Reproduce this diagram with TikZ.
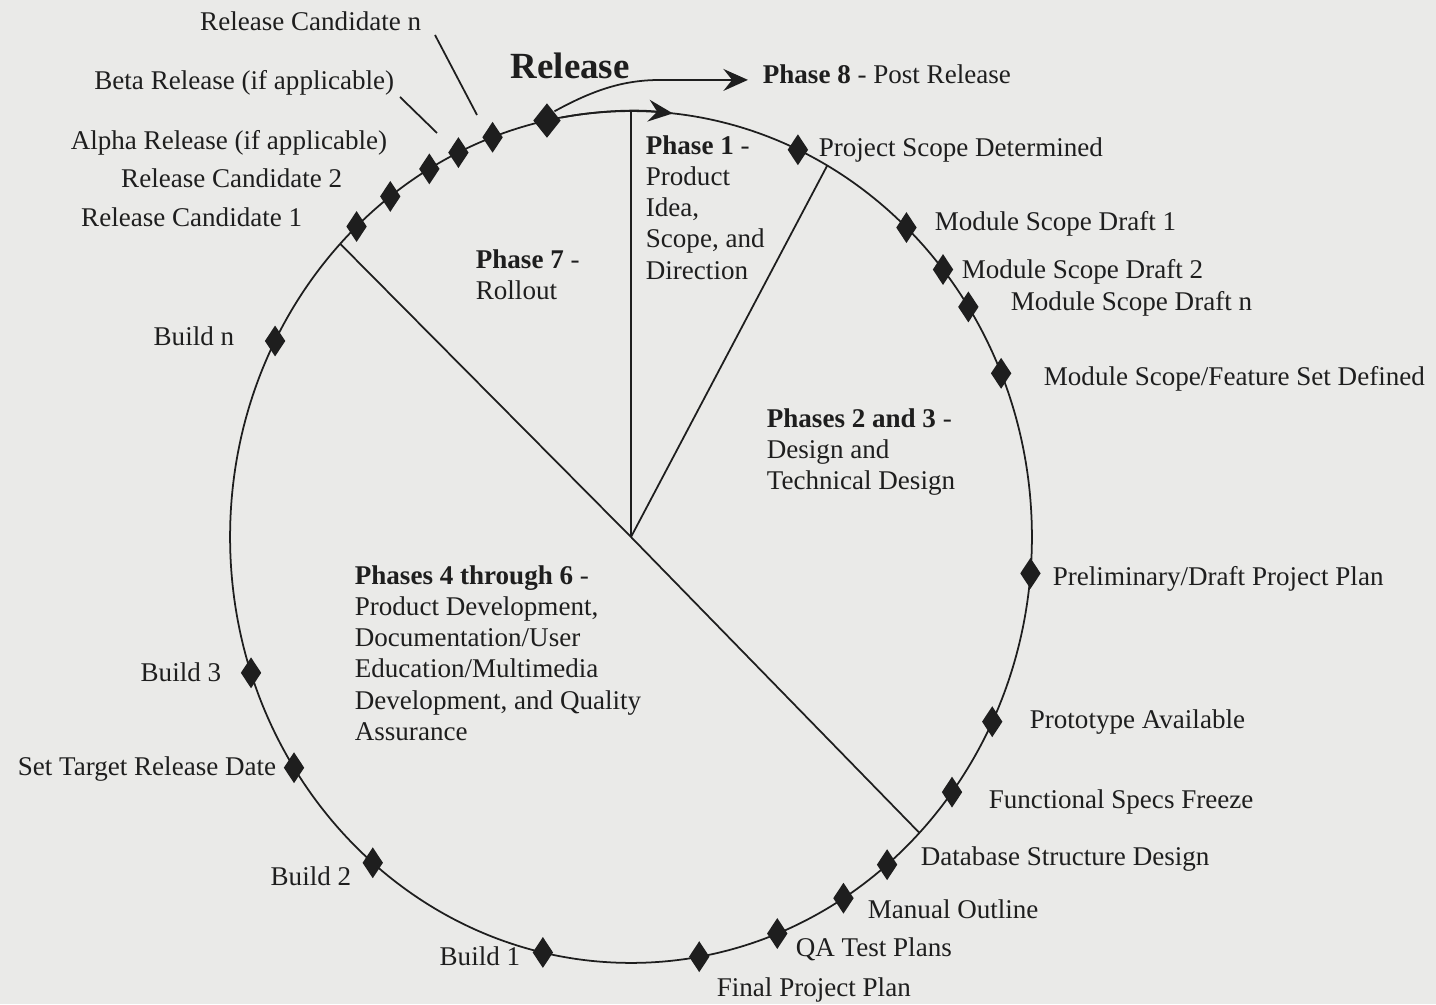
\documentclass[tikz,border=0pt]{standalone}
\usepackage{fontspec}
\setmainfont{Liberation Serif}
\usetikzlibrary{arrows.meta,shapes.geometric}
\definecolor{paper}{RGB}{234,234,232}
\definecolor{ink}{RGB}{30,30,30}
\tikzset{every picture/.style={line width=1pt}}
\tikzset{
  milestone/.style={diamond, fill=ink, draw=none, inner sep=0pt, minimum width=12pt, minimum height=18pt},
  bigmilestone/.style={milestone, minimum width=16pt, minimum height=20pt},
  lbl/.style={font=\fontsize{15.4}{17.7}\selectfont, text=ink, inner sep=0pt},
  leftlbl/.style={lbl, anchor=mid east, yshift=-2.8pt},
  rightlbl/.style={lbl, anchor=mid west, yshift=-2.8pt},
  phasetext/.style={lbl, align=left, anchor=north west},
  arrowtip/.style={-{Stealth[length=14pt,width=12.5pt,inset=5pt]}},
}

\begin{document}
\begin{tikzpicture}[x=0.02cm, y=0.02cm, ink]
    % 背景
    \fill[paper] (0,0) rectangle (1436,1004);
    \useasboundingbox (0,0) rectangle (1436,1004);
    % 周期圆
    \coordinate (c) at (631,467);
    \draw (c) ellipse [x radius=8.02cm, y radius=8.52cm];
    \draw[arrowtip] ([shift={(100:8.02cm and 8.52cm)}]c) arc[start angle=100, end angle=84, x radius=8.02cm, y radius=8.52cm];
    % 分区线
    \foreach \ang in {90, 60.7, 136.5, -44}
        \draw (c) -- ([shift={(\ang:8.02cm and 8.52cm)}]c);
    % 里程碑
    \foreach \ang/\name in {65.4/ps, 46.6/md1, 38.9/md2, 32.7/mdn, 22.6/mfs, -4.9/ppp, -25.7/pa,
        -36.8/fsf, -50.3/dsd, -58/mo, -68.6/qa, -80.2/fpp, 257.3/b1, 229.9/b2, 212.8/std,
        198.6/b3, 152.6/bn, 133.2/rc1, 126.9/rc2, 120.2/alpha, 115.5/beta, 110.2/rcn}
        \node[milestone] (\name) at ([shift={(\ang:8.02cm and 8.52cm)}]c) {};
    \node[bigmilestone] (rel) at ([shift={(102.1:8.02cm and 8.52cm)}]c) {};
    % 发布
    \node[font=\fontsize{21}{24}\selectfont\bfseries, anchor=mid west, inner sep=0pt, yshift=-4.5pt] (rellbl) at (510,937) {Release};
    \node[rightlbl] (p8) at (762,929) {\textbf{Phase 8} - Post Release};
    \draw[arrowtip] (rel.north east) .. controls (595,915) and (625,924) .. (660,924) -- ([xshift=-8pt]p8.mid west);
    % 左侧标注
    \node[leftlbl] (rcnlbl) at (422,982) {Release Candidate n};
    \node[leftlbl] (betalbl) at (395,923) {Beta Release (if applicable)};
    \node[leftlbl] (alphalbl) at (388,863) {Alpha Release (if applicable)};
    \node[leftlbl] (rc2lbl) at (343,825) {Release Candidate 2};
    \node[leftlbl] (rc1lbl) at (303,786) {Release Candidate 1};
    \node[leftlbl] (bnlbl) at (235,667) {Build n};
    \node[leftlbl] (b3lbl) at (222,331) {Build 3};
    \node[leftlbl] (stdlbl) at (277,237) {Set Target Release Date};
    \node[leftlbl] (b2lbl) at (352,127) {Build 2};
    \node[leftlbl] (b1lbl) at (521,47) {Build 1};
    % 引线
    \coordinate (rcntop) at (435,969);
    \coordinate (rcnfoot) at (477,889);
    \coordinate (betatop) at (400,907);
    \coordinate (betafoot) at (437,871);
    \draw (rcntop) -- (rcnfoot);
    \draw (betatop) -- (betafoot);
    % 右侧标注
    \node[rightlbl] (pslbl) at (818,856) {Project Scope Determined};
    \node[rightlbl] (md1lbl) at (934,782) {Module Scope Draft 1};
    \node[rightlbl] (md2lbl) at (961,734) {Module Scope Draft 2};
    \node[rightlbl] (mdnlbl) at (1010,702) {Module Scope Draft n};
    \node[rightlbl] (mfslbl) at (1043,627) {Module Scope/Feature Set Defined};
    \node[rightlbl] (ppplbl) at (1052,427) {Preliminary/Draft Project Plan};
    \node[rightlbl] (palbl) at (1029,284) {Prototype Available};
    \node[rightlbl] (fsflbl) at (988,204) {Functional Specs Freeze};
    \node[rightlbl] (dsdlbl) at (920,147) {Database Structure Design};
    \node[rightlbl] (molbl) at (867,94) {Manual Outline};
    \node[rightlbl] (qalbl) at (795,56) {QA Test Plans};
    \node[rightlbl] (fpplbl) at (716,16) {Final Project Plan};
    % 阶段说明
    \node[phasetext] (ph1) at (645,869) {\textbf{Phase 1} -\\Product\\Idea,\\Scope, and\\Direction};
    \node[phasetext] (ph7) at (475,755) {\textbf{Phase 7} -\\Rollout};
    \node[phasetext] (ph23) at (766,596) {\textbf{Phases 2 and 3} -\\Design and\\Technical Design};
    \node[phasetext] (ph46) at (354,439) {\textbf{Phases 4 through 6} -\\Product Development,\\Documentation/User\\Education/Multimedia\\Development, and Quality\\Assurance};
\end{tikzpicture}
\end{document}
